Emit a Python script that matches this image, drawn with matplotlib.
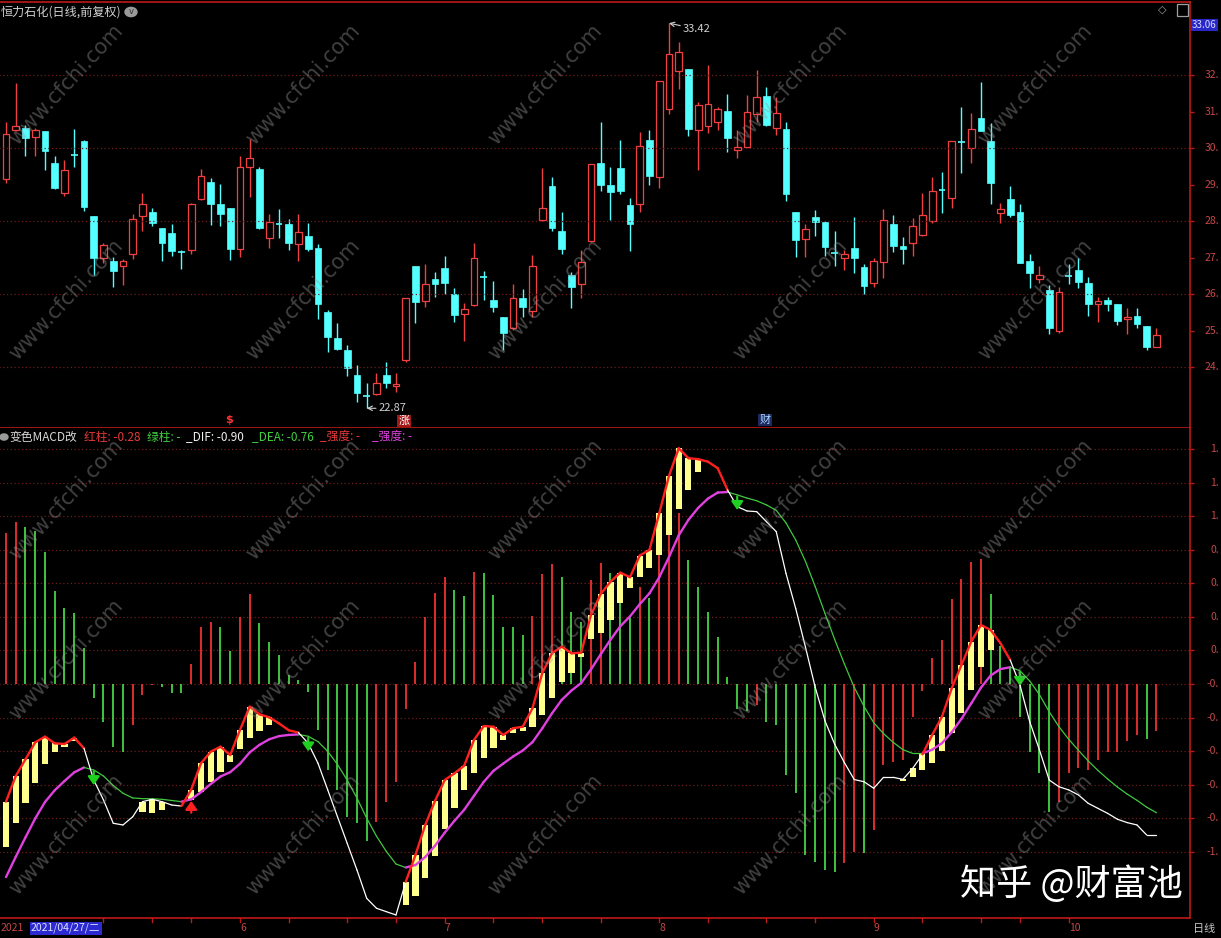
"""恒力石化 daily K-line + 变色MACD改 panel."""
import matplotlib
matplotlib.use("Agg")
import matplotlib.pyplot as plt
from matplotlib.patches import Rectangle
from matplotlib.transforms import blended_transform_factory as blend
import numpy as np

plt.rcParams['font.family'] = ['Noto Sans CJK SC', 'DejaVu Sans']

# ---- daily bars, 2021-04-26 .. 2021-10-21 ----
opens = [29.14, 30.48, 30.54, 30.29, 30.47, 29.58, 28.78, 29.80, 30.19, 28.14,
         26.98, 26.90, 26.78, 27.11, 28.14, 28.24, 27.80, 27.66, 27.16, 27.21,
         28.59, 29.06, 28.48, 28.36, 27.22, 29.47, 29.42, 27.53, 27.91, 27.92,
         27.36, 27.60, 27.25, 25.50, 24.79, 24.48, 23.78, 23.20, 23.25, 23.78,
         23.48, 24.19, 26.78, 25.81, 26.40, 26.70, 25.99, 25.44, 25.70, 26.47,
         25.85, 25.36, 25.06, 25.88, 25.54, 28.03, 28.96, 27.73, 26.51, 26.27,
         27.45, 29.58, 28.98, 29.44, 28.44, 28.48, 30.22, 29.20, 31.06, 32.12,
         32.16, 30.49, 30.59, 30.70, 31.01, 29.94, 30.04, 30.93, 31.42, 30.56,
         30.51, 28.24, 27.50, 28.12, 27.98, 27.13, 27.00, 27.25, 26.73, 26.29,
         26.89, 27.92, 27.32, 27.41, 27.63, 28.00, 28.84, 28.62, 30.16, 29.99,
         30.83, 30.19, 28.21, 28.60, 28.24, 26.90, 26.42, 26.11, 25.00, 26.49,
         26.66, 26.29, 25.73, 25.83, 25.72, 25.31, 25.40, 25.12, 24.54]
highs = [30.72, 31.77, 30.63, 30.54, 30.47, 29.79, 29.67, 30.52, 30.22, 28.14,
         27.41, 27.02, 26.96, 28.19, 28.76, 28.35, 27.82, 27.92, 27.21, 28.50,
         29.42, 29.18, 29.01, 28.36, 29.78, 30.25, 29.47, 28.19, 28.32, 28.06,
         28.18, 27.94, 27.37, 25.56, 25.22, 24.60, 24.05, 23.57, 23.83, 24.13,
         23.83, 25.88, 26.78, 26.81, 26.59, 27.05, 26.16, 25.76, 27.41, 26.64,
         26.36, 25.36, 26.27, 26.13, 27.07, 29.44, 29.20, 28.24, 26.59, 27.21,
         29.55, 30.70, 29.49, 30.22, 28.62, 30.43, 30.49, 31.84, 33.42, 32.91,
         32.16, 31.27, 32.27, 31.12, 31.48, 30.49, 31.45, 32.14, 31.66, 31.39,
         30.72, 28.24, 27.92, 28.30, 28.00, 27.73, 27.21, 28.12, 26.82, 27.00,
         28.32, 28.16, 27.57, 28.07, 28.76, 29.21, 29.35, 30.19, 31.13, 30.97,
         31.81, 30.69, 28.50, 28.96, 28.48, 27.11, 26.78, 26.25, 26.20, 26.82,
         26.98, 26.47, 25.91, 25.91, 25.72, 25.61, 25.61, 25.12, 25.06]
lows = [29.05, 30.47, 29.78, 29.79, 29.40, 28.89, 28.69, 29.47, 28.28, 26.52,
        26.86, 26.20, 26.24, 26.95, 27.73, 27.87, 26.91, 27.05, 26.68, 27.10,
        28.58, 27.89, 27.85, 26.93, 27.02, 28.65, 27.79, 27.27, 27.53, 27.21,
        26.90, 27.17, 25.31, 24.42, 24.48, 23.76, 23.05, 22.87, 23.23, 23.43,
        23.31, 24.15, 25.20, 25.64, 25.93, 26.00, 25.24, 24.70, 25.68, 25.84,
        25.50, 24.47, 25.01, 25.38, 25.36, 28.01, 27.74, 27.11, 25.61, 25.88,
        27.43, 28.83, 28.03, 28.74, 27.19, 28.24, 28.99, 28.91, 30.93, 31.61,
        30.33, 29.40, 30.42, 30.48, 29.88, 29.72, 30.02, 30.72, 30.60, 30.36,
        28.55, 27.02, 27.02, 27.60, 27.05, 26.78, 26.66, 26.57, 26.00, 26.20,
        26.43, 27.16, 26.82, 27.05, 27.59, 27.95, 28.23, 28.37, 29.31, 29.60,
        30.47, 28.47, 27.95, 28.12, 26.84, 26.16, 26.29, 24.90, 24.92, 26.27,
        26.17, 25.40, 25.24, 25.54, 25.15, 24.90, 25.08, 24.48, 24.54]
closes = [30.38, 30.61, 30.28, 30.48, 29.93, 28.91, 29.40, 29.78, 28.39, 26.99,
          27.33, 26.64, 26.90, 28.05, 28.48, 27.95, 27.41, 27.19, 27.15, 28.48,
          29.23, 28.47, 28.18, 27.23, 29.49, 29.72, 27.82, 27.96, 27.89, 27.39,
          27.71, 27.24, 25.73, 24.83, 24.50, 23.96, 23.30, 23.19, 23.55, 23.57,
          23.53, 25.88, 25.79, 26.27, 26.27, 26.29, 25.42, 25.58, 27.00, 26.46,
          25.64, 24.92, 25.88, 25.64, 26.78, 28.35, 27.80, 27.22, 26.18, 26.87,
          29.55, 29.00, 28.80, 28.83, 27.91, 30.06, 29.22, 31.84, 32.57, 32.62,
          30.51, 31.18, 31.20, 31.07, 30.27, 30.03, 30.98, 31.39, 30.63, 30.97,
          28.73, 27.48, 27.77, 27.97, 27.28, 27.09, 27.10, 26.99, 26.23, 26.90,
          28.03, 27.32, 27.22, 27.86, 28.16, 28.82, 28.82, 30.19, 30.13, 30.51,
          30.47, 29.05, 28.33, 28.16, 26.86, 26.57, 26.52, 25.08, 26.05, 26.48,
          26.34, 25.73, 25.82, 25.73, 25.26, 25.36, 25.18, 24.56, 24.89]

# ---- MACD panel ----
dif = [-0.702, -0.549, -0.449, -0.348, -0.314, -0.354, -0.358, -0.320, -0.384, -0.573,
       -0.692, -0.831, -0.841, -0.792, -0.702, -0.688, -0.702, -0.722, -0.728, -0.630,
       -0.473, -0.404, -0.374, -0.424, -0.274, -0.135, -0.181, -0.199, -0.235, -0.276,
       -0.290, -0.354, -0.473, -0.632, -0.792, -0.951, -1.110, -1.279, -1.338, -1.358,
       -1.378, -1.180, -1.020, -0.841, -0.698, -0.573, -0.533, -0.487, -0.334, -0.251,
       -0.255, -0.304, -0.264, -0.255, -0.145, 0.064, 0.183, 0.223, 0.183, 0.187,
       0.412, 0.537, 0.610, 0.664, 0.637, 0.766, 0.800, 1.018, 1.241, 1.406,
       1.347, 1.341, 1.326, 1.287, 1.158, 1.058, 1.032, 1.028, 0.968, 0.909,
       0.660, 0.450, 0.220, -0.020, -0.220, -0.360, -0.470, -0.570, -0.583, -0.622,
       -0.557, -0.557, -0.569, -0.503, -0.420, -0.304, -0.195, -0.026, 0.113, 0.253,
       0.352, 0.322, 0.243, 0.143, -0.006, -0.225, -0.394, -0.573, -0.613, -0.632,
       -0.662, -0.712, -0.742, -0.772, -0.807, -0.827, -0.841, -0.901, -0.901]
dea = [-1.152, -1.031, -0.915, -0.802, -0.704, -0.634, -0.579, -0.527, -0.498, -0.513,
       -0.549, -0.605, -0.652, -0.680, -0.684, -0.685, -0.688, -0.695, -0.702, -0.688,
       -0.645, -0.597, -0.552, -0.526, -0.476, -0.408, -0.363, -0.330, -0.311, -0.304,
       -0.301, -0.312, -0.344, -0.402, -0.480, -0.574, -0.681, -0.801, -0.908, -0.998,
       -1.074, -1.095, -1.080, -1.032, -0.965, -0.887, -0.816, -0.750, -0.667, -0.584,
       -0.518, -0.475, -0.433, -0.397, -0.347, -0.265, -0.175, -0.095, -0.039, 0.006,
       0.087, 0.177, 0.264, 0.344, 0.403, 0.476, 0.541, 0.636, 0.757, 0.887,
       0.979, 1.051, 1.106, 1.142, 1.145, 1.128, 1.109, 1.093, 1.068, 1.036,
       0.961, 0.859, 0.731, 0.581, 0.421, 0.265, 0.118, -0.020, -0.133, -0.231,
       -0.296, -0.348, -0.392, -0.414, -0.414, -0.392, -0.353, -0.288, -0.208, -0.116,
       -0.022, 0.051, 0.089, 0.100, 0.079, 0.018, -0.064, -0.166, -0.255, -0.330,
       -0.396, -0.459, -0.516, -0.567, -0.615, -0.657, -0.694, -0.735, -0.768]
hist = [0.899, 0.969, 0.939, 0.913, 0.790, 0.555, 0.451, 0.422, 0.213, -0.085,
        -0.225, -0.374, -0.404, -0.245, -0.066, -0.005, -0.020, -0.052, -0.056, 0.117,
        0.342, 0.372, 0.342, 0.197, 0.402, 0.537, 0.362, 0.253, 0.173, 0.054,
        0.024, -0.046, -0.274, -0.513, -0.632, -0.796, -0.831, -0.935, -0.821, -0.702,
        -0.583, -0.151, 0.133, 0.402, 0.545, 0.636, 0.561, 0.525, 0.670, 0.660,
        0.531, 0.342, 0.338, 0.292, 0.408, 0.656, 0.714, 0.640, 0.431, 0.372,
        0.620, 0.720, 0.660, 0.621, 0.402, 0.581, 0.511, 0.800, 0.980, 1.020,
        0.740, 0.581, 0.432, 0.282, 0.044, -0.150, -0.160, -0.125, -0.225, -0.245,
        -0.543, -0.652, -1.020, -1.060, -1.110, -1.120, -1.070, -1.000, -1.010, -0.871,
        -0.483, -0.463, -0.453, -0.195, -0.040, 0.153, 0.263, 0.505, 0.625, 0.726,
        0.746, 0.537, 0.227, 0.103, -0.195, -0.404, -0.533, -0.762, -0.702, -0.530,
        -0.500, -0.513, -0.453, -0.404, -0.404, -0.338, -0.304, -0.328, -0.280]
hist_col = ("rrggggggggggg" "rrr" "ggg" "rrr" "gg" "rr" "gggggggggggg" "rrrrrrrr"
            "gg" "r" "ggggg" "rrr" "ggg" "rr" "ggg" "r" "g" "rrr" "ggggggg" "r"
            "gggggggg" "rr" "g" "rrrrrrrrrrrr" "ggggggg" "rrrrrrrrr" "g" "r")
yellow_idx = list(range(0, 8)) + [14, 15, 16] + list(range(19, 28)) + \
    list(range(41, 72)) + list(range(92, 102))
yellow_low = [-0.971, -0.831, -0.708, -0.589, -0.477, -0.404, -0.374, -0.340,
              -0.762, -0.768, -0.752,
              -0.692, -0.642, -0.583, -0.523, -0.463, -0.390, -0.324, -0.278, -0.245,
              -1.319, -1.265, -1.159, -1.026, -0.867, -0.742, -0.632, -0.533, -0.443, -0.384,
              -0.334, -0.294, -0.278, -0.255, -0.185, -0.085, 0.014, 0.064, 0.163, 0.270,
              0.306, 0.382, 0.485, 0.571, 0.640, 0.690, 0.770, 0.889, 1.044, 1.158, 1.267,
              -0.577, -0.557, -0.513, -0.469, -0.398, -0.294, -0.171, -0.036, 0.100, 0.203]
dead_cross = [9, 31, 75, 104]
gold_cross = [19]

month_idx = [24, 45, 67, 89, 109]
month_lab = ["6", "7", "8", "9", "10"]
week_idx = [10, 15, 19, 29, 35, 40, 50, 55, 61, 72, 78, 83, 94, 100, 104]
price_ticks = [32, 31, 30, 29, 28, 27, 26, 25, 24]
price_grid = [32, 30, 28, 26, 24]
macd_ticks = [1.4, 1.2, 1.0, 0.8, 0.6, 0.4, 0.2, 0.0, -0.2, -0.4, -0.6, -0.8, -1.0]
# the labels are cut by the window edge in the original, only the head shows
macd_labels = ["1.", "1.", "1.", "0.", "0.", "0.", "0.", "-0.",
               "-0.", "-0.", "-0.", "-0.", "-1."]

RED, CYAN, FRAME, GRID, AXT = "#f04040", "#54ffff", "#c01818", "#6e1c1c", "#c44848"
W, H = 1221, 938
fig = plt.figure(figsize=(W / 100, H / 100), dpi=100, facecolor="black")


def box(l, t, r, b):
    return [l / W, 1 - b / H, (r - l) / W, (b - t) / H]


def ft(x, y, s, **kw):
    kw.setdefault("va", "center")
    return fig.text(x / W, 1 - y / H, s, **kw)


axp = fig.add_axes(box(0, 2, 1190, 428))
axm = fig.add_axes(box(0, 428, 1190, 918))
n = len(closes)
xs = np.arange(n)
for ax in (axp, axm):
    ax.set_facecolor("black")
    ax.set_xlim(-0.615, 121.44)
    ax.set_xticks([])
    for s in ax.spines.values():
        s.set_color(FRAME)
        s.set_linewidth(1.2)
    ax.spines["left"].set_visible(False)
    ax.yaxis.tick_right()
    ax.tick_params(axis="y", colors=FRAME, length=3, width=1, labelright=False)
axp.set_ylim(22.33, 34.0)
axm.set_ylim(-1.396, 1.527)
axm.spines["top"].set_visible(False)

# ---- candles ----
bw = 0.68
for i in range(n):
    o, h, l, c = opens[i], highs[i], lows[i], closes[i]
    top, bot = max(o, c), min(o, c)
    if c >= o:
        axp.vlines(i, top, h, color=RED, lw=1)
        axp.vlines(i, l, bot, color=RED, lw=1)
        axp.add_patch(Rectangle((i - bw / 2, bot), bw, max(top - bot, 0.02),
                                fc="black", ec=RED, lw=0.9))
    else:
        axp.vlines(i, l, h, color=CYAN, lw=1)
        if top - bot < 0.04:
            axp.hlines(top, i - bw / 2, i + bw / 2, color=CYAN, lw=1.2)
        else:
            axp.add_patch(Rectangle((i - bw / 2, bot), bw, top - bot, fc=CYAN, ec=CYAN, lw=0.5))
axp.hlines(price_grid, -1, 122, color=GRID, lw=0.9, linestyles=(0, (1, 2)))
axp.set_yticks(price_ticks)
tp = blend(fig.transFigure, axp.transData)
for v in price_ticks:
    axp.text(1219 / W, v, "%d." % v, transform=tp, ha="right", va="center",
             color=AXT, fontsize=7.5, clip_on=False)

imax, imin = int(np.argmax(highs)), int(np.argmin(lows))
axp.annotate("%.2f" % highs[imax], xy=(imax, highs[imax]), xytext=(14, -6),
             textcoords="offset pixels", color="#d0d0d0", fontsize=8, va="center",
             arrowprops=dict(arrowstyle="->", color="#d0d0d0", lw=0.8, shrinkA=0, shrinkB=0))
axp.annotate("%.2f" % lows[imin], xy=(imin, lows[imin]), xytext=(12, 0),
             textcoords="offset pixels", color="#d0d0d0", fontsize=8, va="center",
             arrowprops=dict(arrowstyle="->", color="#d0d0d0", lw=0.8, shrinkA=0, shrinkB=0))

# ---- MACD ----
axm.hlines(macd_ticks, -1, 122, color=GRID, lw=0.9, linestyles=(0, (1, 2)))
axm.set_yticks(macd_ticks)
tm = blend(fig.transFigure, axm.transData)
for v, s in zip(macd_ticks, macd_labels):
    axm.text(1219 / W, v, s, transform=tm, ha="right", va="center",
             color=AXT, fontsize=7.5, clip_on=False)
cols = ["#f03030" if k == "r" else "#44d444" for k in hist_col]
axm.vlines(xs, 0, hist, colors=cols, lw=1.3)
ytop = [dif[i] for i in yellow_idx]
axm.bar(yellow_idx, np.array(ytop) - np.array(yellow_low), bottom=yellow_low,
        width=0.62, color="#ffff8c", zorder=3)
for i in range(1, n):
    up = dif[i] > dea[i]
    axm.plot([i - 1, i], [dea[i - 1], dea[i]], color="#e040e0" if up else "#40c840",
             lw=1.7 if up else 0.9, zorder=4, solid_capstyle="round")
    axm.plot([i - 1, i], [dif[i - 1], dif[i]], color="#ff2020" if up else "white",
             lw=1.7 if up else 0.9, zorder=5, solid_capstyle="round")
for i in dead_cross:
    axm.annotate("", xy=(i, dea[i] - 0.09), xytext=(i, dea[i] - 0.01), zorder=6,
                 arrowprops=dict(arrowstyle="-|>,head_width=0.35,head_length=0.5",
                                 color="#20d020", lw=1.6, shrinkA=0, shrinkB=0))
for i in gold_cross:
    axm.annotate("", xy=(i, dea[i] - 0.01), xytext=(i, dea[i] - 0.08), zorder=6,
                 arrowprops=dict(arrowstyle="-|>,head_width=0.35,head_length=0.5",
                                 color="#ff2020", lw=1.6, shrinkA=0, shrinkB=0))

# ---- watermarks ----
for yy in [85, 300, 500, 660, 835]:
    for xx in [66, 303, 545, 790, 1035]:
        ft(xx, yy, "www.cfchi.com", rotation=47, color="#9a9a9a", alpha=0.42,
           fontsize=15, ha="center", family="DejaVu Sans")
ft(960, 884, "知乎 @财富池", color="white", fontsize=26)

# ---- header / legend texts ----
ft(1, 12, "恒力石化(日线,前复权)", color="#d0d0d0", fontsize=8.7)
fig.patches.append(plt.Circle((131 / W, 1 - 12 / H), 6 / W, transform=fig.transFigure,
                              color="#9a9a9a"))
ft(131, 12, "v", color="#303030", fontsize=6, ha="center", family="DejaVu Sans")
ft(1162, 10, "◇", color="#a0a0a0", fontsize=8, ha="center", family="DejaVu Sans")
fig.patches.append(Rectangle((1177 / W, 1 - 16 / H), 11 / W, 12 / H, transform=fig.transFigure,
                             fc="none", ec="#a0a0a0", lw=0.9))
ft(1192, 25, "33.06", color="#d8d8ff", fontsize=7,
   bbox=dict(boxstyle="square,pad=0.1", fc="#2828c8", ec="none"))

fig.patches.append(plt.Circle((4 / W, 1 - 437 / H), 4 / W, transform=fig.transFigure,
                              color="#9a9a9a"))
for x, s, c in [(9, "变色MACD改", "#d8d8d8"), (84, "红柱: -0.28", "#e83838"),
                (147, "绿柱: -", "#40d040"), (186, "_DIF: -0.90", "#f0f0f0"),
                (252, "_DEA: -0.76", "#40d040"), (320, "_强度: -", "#e83838"),
                (372, "_强度: -", "#e040e0")]:
    ft(x, 437, s, color=c, fontsize=8.5)

ft(229, 420, "$", color="#ff3030", fontsize=8, ha="center", weight="bold",
   family="DejaVu Sans")
ft(404, 421, "涨", color="white", fontsize=8, ha="center",
   bbox=dict(boxstyle="square,pad=0.1", fc="#a01818", ec="none"))
ft(765, 420, "财", color="#a8d8ff", fontsize=8, ha="center",
   bbox=dict(boxstyle="square,pad=0.1", fc="#202860", ec="none"))

# ---- date strip ----
tb = blend(axm.transData, fig.transFigure)
for i, s in zip(month_idx, month_lab):
    axm.text(i, 1 - 928 / H, s, transform=tb, color=AXT, fontsize=7.5,
             ha="left", va="center", clip_on=False)
for i in week_idx + month_idx:
    axm.plot([i, i], [1 - 918 / H, 1 - 922 / H], transform=tb, color=FRAME,
             lw=1, clip_on=False)
ft(1, 928, "2021", color=AXT, fontsize=7.5)
ft(31, 928, "2021/04/27/二", color="#e0e0ff", fontsize=7.5,
   bbox=dict(boxstyle="square,pad=0.12", fc="#2a2ad0", ec="none"))
ft(1193, 929, "日线", color="#c8c8c8", fontsize=8)

fig.savefig("out.png", dpi=100, facecolor="black")
